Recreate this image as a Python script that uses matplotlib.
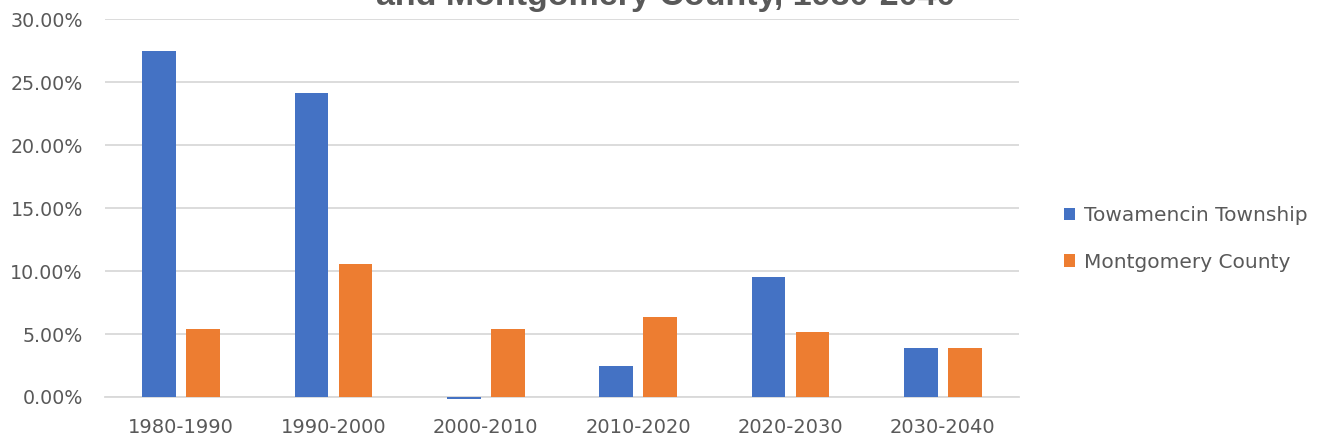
import numpy as np
import matplotlib
matplotlib.use("Agg")
from matplotlib import pyplot as plt
from matplotlib.ticker import FuncFormatter

# data (percent change per decade)
periods = ["1980-1990", "1990-2000", "2000-2010", "2010-2020", "2020-2030", "2030-2040"]
towamencin = [27.46, 24.13, -0.16, 2.44, 9.52, 3.86]
montgomery = [5.40, 10.56, 5.40, 6.33, 5.13, 3.86]
series_names = ["Towamencin Township", "Montgomery County"]

blue = "#4472C4"
orange = "#ED7D31"
grey_txt = "#595959"
grid_col = "#D9D9D9"

plt.rcParams['font.family'] = ['DejaVu Sans']

fig = plt.figure(figsize=(13.2, 4.41), dpi=100)
ax = fig.add_axes([105/1320, 1-397/441, 914/1320, 378/441])

x = np.arange(len(periods))
w = 0.22
off = 0.145
ax.bar(x - off, towamencin, w, color=blue, label=series_names[0], clip_on=False, zorder=3)
ax.bar(x + off, montgomery, w, color=orange, label=series_names[1], clip_on=False, zorder=3)

ax.set_xlim(-0.5, len(periods) - 0.5)
ax.set_ylim(0, 30)
ax.set_yticks(np.arange(0, 30.01, 5))
ax.yaxis.set_major_formatter(FuncFormatter(lambda v, p: f"{v:.2f}%"))
ax.set_xticks(x)
ax.set_xticklabels(periods)

ax.grid(axis="y", color=grid_col, linewidth=1.3, zorder=0)
for s in ["top", "right", "left"]:
    ax.spines[s].set_visible(False)
ax.spines["bottom"].set_color(grid_col)
ax.spines["bottom"].set_linewidth(1.3)
ax.tick_params(axis="y", length=0, pad=16, labelsize=13.7, labelcolor=grey_txt)
ax.tick_params(axis="x", length=0, pad=15, labelsize=14, labelcolor=grey_txt)

# title (cut off at the top in the original)
fig.text(0.504, 1 - 5/441, "and Montgomery County, 1980-2040", ha="center", va="baseline",
         fontsize=24.5, fontweight="bold", color=grey_txt, family=["Liberation Sans", "DejaVu Sans"])

leg = fig.legend(loc="center left", bbox_to_anchor=(1046/1320, 1 - 239/441), frameon=False,
                 handlelength=0.55, handleheight=0.55, handletextpad=0.45, labelspacing=1.35,
                 fontsize=14.5, labelcolor=grey_txt)

fig.savefig("out.png", dpi=100)
